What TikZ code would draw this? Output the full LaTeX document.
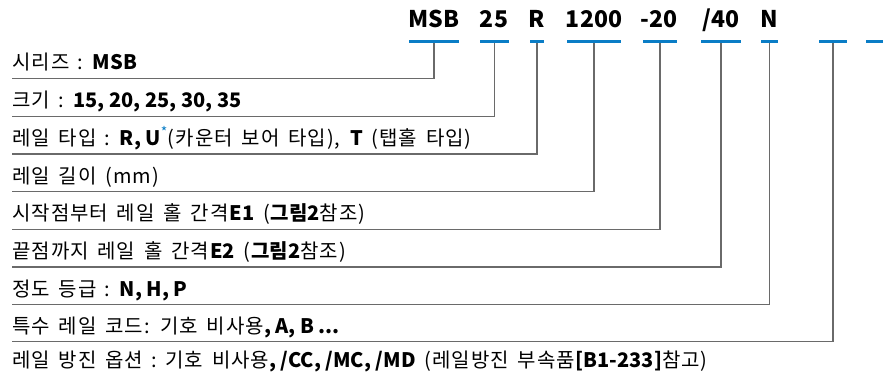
\documentclass[tikz,border=0pt]{standalone}
\usepackage{fontspec}
\setmainfont{Noto Sans CJK KR}[UprightFeatures={WordSpace=1.6,LetterSpace=5}]
\definecolor{barblue}{HTML}{0A7DC6}
\definecolor{leadgray}{HTML}{6A6A6A}
\tikzset{
  code/.style={anchor=base, inner sep=0pt, font=\fontsize{23}{23}\selectfont\bfseries},
  codebar/.style={fill=barblue, inner sep=0pt, minimum height=2.6, draw=none},
  lead/.style={draw=leadgray, line width=1.2},
  row/.style={anchor=base west, inner sep=0pt, font=\fontsize{20}{20}\selectfont},
}
\newcommand{\sepcolon}{\hspace{0.42em}:\hspace{0.42em}}
\begin{document}
\begin{tikzpicture}[x=1pt,y=-1pt]
  \useasboundingbox (0,0) rectangle (883,377);
  % code letters
  \node[code] (c1) at (434,27.3) {MSB};
  \node[code] (c2) at (494,27.3) {25};
  \node[code] (c3) at (537,27.3) {R};
  \node[code] (c4) at (594,27.3) {1200};
  \node[code] (c5) at (659,27.3) {-20};
  \node[code] (c6) at (721,27.3) {/40};
  \node[code] (c7) at (769,27.3) {N};
  % blue bars
  \node[codebar, minimum width=50] (b1) at (434,41.7) {};
  \node[codebar, minimum width=29] (b2) at (494.5,41.7) {};
  \node[codebar, minimum width=14] (b3) at (537,41.7) {};
  \node[codebar, minimum width=54] (b4) at (594,41.7) {};
  \node[codebar, minimum width=34] (b5) at (660,41.7) {};
  \node[codebar, minimum width=40] (b6) at (721,41.7) {};
  \node[codebar, minimum width=17] (b7) at (769.5,41.7) {};
  \node[codebar, minimum width=28] (b8) at (833,41.7) {};
  \node[codebar, minimum width=17] (b9) at (874.5,41.7) {};
  % left ends of the leads
  \coordinate (l1) at (12,78.3);
  \coordinate (l2) at (12,116.7);
  \coordinate (l3) at (12,154);
  \coordinate (l4) at (12,191.7);
  \coordinate (l5) at (12,229.3);
  \coordinate (l6) at (12,267);
  \coordinate (l7) at (12,304.5);
  \coordinate (l8) at (12,341.7);
  % leads
  \draw[lead] (b1.south) |- (l1);
  \draw[lead] (b2.south) |- (l2);
  \draw[lead] (b3.south) |- (l3);
  \draw[lead] (b4.south) |- (l4);
  \draw[lead] (b5.south) |- (l5);
  \draw[lead] (b6.south) |- (l6);
  \draw[lead] (b7.south) |- (l7);
  \draw[lead] (b8.south) |- (l8);
  % row texts
  \node[row] (t1) at (12,70) {시리즈\sepcolon\textbf{MSB}};
  \node[row] (t2) at (12,108) {크기\sepcolon\textbf{15, 20, 25, 30, 35}};
  \node[row] (t3) at (12,145.5) {레일 타입\sepcolon\textbf{R, U}\textsuperscript{\color{barblue}*}(카운터 보어 타입), \textbf{T} (탭홀 타입)};
  \node[row] (t4) at (12,183.3) {레일 길이 (mm)};
  \node[row] (t5) at (12,220.8) {시작점부터 레일 홀 간격\textbf{E1} (\textbf{그림2}참조)};
  \node[row] (t6) at (12,258.5) {끝점까지 레일 홀 간격\textbf{E2} (\textbf{그림2}참조)};
  \node[row] (t7) at (12,296) {정도 등급\sepcolon\textbf{N, H, P}};
  \node[row] (t8) at (12,333.2) {특수 레일 코드: 기호 비사용\textbf{, A, B ...}};
  \node[row] (t9) at (12,367) {레일 방진 옵션\sepcolon 기호 비사용\textbf{, /CC, /MC, /MD} (레일방진 부속품\textbf{[B1-233]}참고)};
\end{tikzpicture}
\end{document}
